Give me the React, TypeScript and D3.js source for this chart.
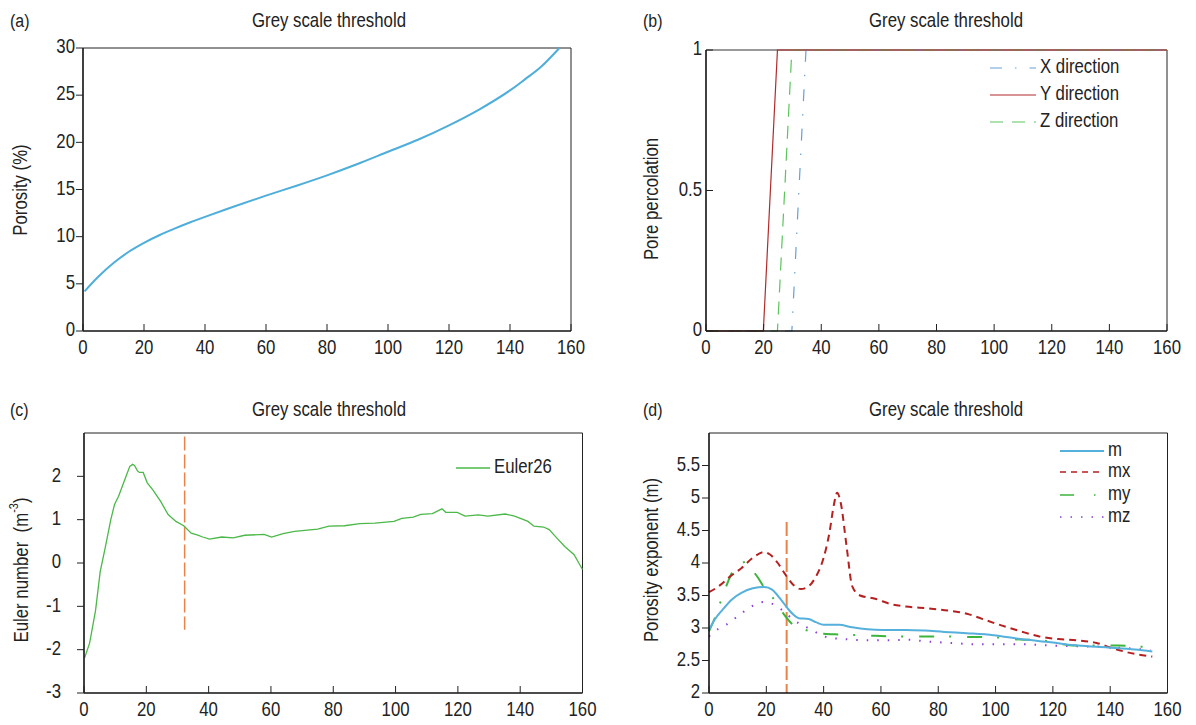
import React from 'react';
import * as d3 from 'd3';

// (a) porosity vs grey scale threshold
const porosityX = [0.5, 5, 10, 15, 20, 25, 30, 35, 40, 50, 60, 70, 80, 90, 100, 110, 120, 130, 140, 145, 150, 156.2];
const porosityY = [4.2, 5.75, 7.2, 8.4, 9.35, 10.15, 10.85, 11.5, 12.1, 13.25, 14.35, 15.4, 16.5, 17.7, 19.0, 20.3, 21.8, 23.5, 25.5, 26.7, 27.95, 30];

// (b) pore percolation per direction
const percX = { x: [0, 29.8, 34.7, 160], y: [0, 0, 1, 1] };
const percY = { x: [0, 19.9, 24.8, 160], y: [0, 0, 1, 1] };
const percZ = { x: [0, 24.8, 29.8, 160], y: [0, 0, 1, 1] };

// (c) Euler number
const eulerX = [0.2, 1.8, 3.7, 5.2, 6.8, 8.6, 9.8, 11.1, 12.3, 13.5, 14.7, 15.6, 16.2, 17.2, 17.8, 19.0, 20.3, 22.1, 24.6, 27.0, 29.5, 32.0, 34.4, 36.3, 38.1, 40.3, 44.2, 47.9, 51.6, 57.8, 60.2, 63.9, 67.6, 75, 78.6, 83.6, 88.5, 93.4, 99.5, 102, 105.7, 108.1, 111.8, 114.9, 116.1, 119.8, 122.3, 126.6, 129.6, 135.2, 138.2, 142.5, 144.4, 147.5, 149.3, 151.2, 154.3, 157.3, 160];
const eulerY = [-2.19, -1.85, -1.1, -0.2, 0.35, 1.0, 1.35, 1.54, 1.77, 2.0, 2.23, 2.28, 2.25, 2.12, 2.09, 2.09, 1.85, 1.69, 1.42, 1.12, 0.96, 0.86, 0.69, 0.65, 0.6, 0.55, 0.6, 0.58, 0.64, 0.66, 0.6, 0.68, 0.73, 0.78, 0.85, 0.86, 0.91, 0.92, 0.96, 1.03, 1.06, 1.12, 1.14, 1.25, 1.17, 1.17, 1.08, 1.11, 1.08, 1.13, 1.08, 0.96, 0.85, 0.83, 0.77, 0.62, 0.38, 0.19, -0.15];
const eulerMarker = { x: 32.3, y0: -1.54, y1: 2.92 };

// (d) porosity exponent
const mX = [0, 2, 4.7, 8, 11.3, 15.3, 19.3, 22, 24.7, 27.3, 29.3, 31.3, 34.7, 37.3, 40, 42.7, 45.3, 50, 55.3, 60.7, 68.7, 75.3, 82, 90, 99.3, 108.7, 119.3, 128.7, 139.3, 148.7, 154.7];
const mY = [2.97, 3.13, 3.28, 3.44, 3.54, 3.61, 3.63, 3.59, 3.46, 3.31, 3.21, 3.15, 3.14, 3.09, 3.05, 3.05, 3.05, 3.01, 2.98, 2.97, 2.97, 2.96, 2.94, 2.92, 2.89, 2.83, 2.78, 2.73, 2.70, 2.67, 2.64];
const mxX = [0, 3.3, 7.3, 11.3, 15.3, 19.3, 21.3, 24, 26.7, 29.3, 32, 34.7, 37.3, 40, 42, 43.6, 44.7, 46, 48, 50, 52.7, 58, 63.3, 68.7, 76.7, 84.7, 90, 95.3, 102, 108.7, 115.3, 122, 128.7, 135.3, 140.7, 148.7, 154.7];
const mxY = [3.55, 3.64, 3.79, 3.92, 4.08, 4.17, 4.13, 4.0, 3.82, 3.67, 3.6, 3.64, 3.79, 4.08, 4.46, 4.9, 5.08, 4.92, 4.26, 3.64, 3.5, 3.45, 3.37, 3.33, 3.3, 3.26, 3.22, 3.14, 3.04, 2.95, 2.87, 2.83, 2.81, 2.77, 2.69, 2.6, 2.56];
const myX = [0, 2, 4, 6, 8, 11, 13, 15, 17, 19.3, 22.7, 26, 29.3, 33, 37, 40, 46, 58, 64, 75, 81, 93, 98, 110, 114, 125, 130, 143, 148, 154.7];
const myY = [2.95, 3.15, 3.4, 3.64, 3.85, 3.98, 4.02, 3.9, 3.78, 3.62, 3.44, 3.22, 3.05, 2.98, 2.93, 2.91, 2.9, 2.88, 2.87, 2.87, 2.87, 2.86, 2.86, 2.82, 2.82, 2.74, 2.73, 2.73, 2.72, 2.7];
const mzX = [0, 2, 6, 10, 14, 19.3, 22.7, 26, 29.3, 32.7, 36, 38.7, 42, 47.3, 55.3, 63.3, 68.7, 76.7, 84.7, 92.7, 102, 108.7, 119.3, 128.7, 138, 148.7, 154];
const mzY = [2.87, 2.95, 3.05, 3.18, 3.31, 3.4, 3.36, 3.26, 3.13, 3.04, 2.97, 2.9, 2.85, 2.83, 2.81, 2.81, 2.82, 2.79, 2.77, 2.75, 2.75, 2.75, 2.73, 2.72, 2.71, 2.68, 2.66];
const exponentMarker = { x: 27.1, y0: 2, y1: 4.63 };

const xTicks = [0, 20, 40, 60, 80, 100, 120, 140, 160];
const title = 'Grey scale threshold';
const FONT = "'Liberation Sans', Arial, sans-serif";
const SQUEEZE = 0.84; // the source uses a condensed face

type Box = { x0: number; x1: number; y0: number; y1: number };

function zip(xs: number[], ys: number[]): [number, number][] {
  return xs.map((x, i) => [x, ys[i]] as [number, number]);
}

// condensed text: regular face squeezed horizontally along its own baseline
function Txt({ x, y, anchor = 'start', size = 20, rotate = 0, children }: any) {
  return (
    <g transform={`translate(${x},${y}) rotate(${rotate}) scale(${SQUEEZE},1)`}>
      <text x={0} y={0} fontFamily={FONT} fontSize={size} fill="#222" textAnchor={anchor} dominantBaseline="middle">
        {children}
      </text>
    </g>
  );
}

function Panel({ box, yDomain, yTicks, yTickInside, yLabelEnd, tag, titleX, topStroke = '#222', children }: any) {
  const x = d3.scaleLinear().domain([0, 160]).range([box.x0, box.x1]);
  const y = d3.scaleLinear().domain(yDomain).range([box.y1, box.y0]);
  const tl = 7;
  return (
    <g>
      <Txt x={tag.x} y={tag.y} size={19}>{tag.text}</Txt>
      <Txt x={titleX} y={tag.y} anchor="middle">{title}</Txt>
      <line x1={box.x0} x2={box.x1} y1={box.y0} y2={box.y0} stroke={topStroke} strokeWidth={topStroke === '#222' ? 1 : 2} />
      <line x1={box.x1} x2={box.x1} y1={box.y0} y2={box.y1} stroke="#222" strokeWidth={1} />
      {children(x, y)}
      <line x1={box.x0} x2={box.x1} y1={box.y1} y2={box.y1} stroke="#111" strokeWidth={1.6} />
      <line x1={box.x0} x2={box.x0} y1={box.y0} y2={box.y1} stroke="#111" strokeWidth={1.6} />
      {xTicks.map(t => (
        <g key={'x' + t}>
          <line x1={x(t)} x2={x(t)} y1={box.y1} y2={box.y1 - tl} stroke="#222" strokeWidth={1} />
          <Txt x={x(t)} y={box.y1 + 18} anchor="middle">{t}</Txt>
        </g>
      ))}
      {yTicks.map((t: number) => (
        <g key={'y' + t}>
          <line x1={box.x0} x2={yTickInside ? box.x0 + tl : box.x0 - tl} y1={y(t)} y2={y(t)} stroke="#222" strokeWidth={1} />
          <Txt x={yLabelEnd} y={y(t)} anchor="end">{String(t)}</Txt>
        </g>
      ))}
    </g>
  );
}

function Series({ x, y, pts, stroke, width = 1.2, dash, curve = d3.curveMonotoneX }: any) {
  const line = d3.line<[number, number]>().x(d => x(d[0])).y(d => y(d[1])).curve(curve);
  return <path d={line(pts) || ''} fill="none" stroke={stroke} strokeWidth={width} strokeDasharray={dash} />;
}

function LegendRow({ x0, x1, yy, label, stroke, width = 1.2, dash }: any) {
  return (
    <g>
      <line x1={x0} x2={x1} y1={yy} y2={yy} stroke={stroke} strokeWidth={width} strokeDasharray={dash} />
      <Txt x={x1 + 4} y={yy}>{label}</Txt>
    </g>
  );
}

export default function App() {
  const boxA: Box = { x0: 83, x1: 571, y0: 48, y1: 331 };
  const boxB: Box = { x0: 706, x1: 1167, y0: 50, y1: 331 };
  const boxC: Box = { x0: 84, x1: 582.5, y0: 433, y1: 693 };
  const boxD: Box = { x0: 709, x1: 1167.5, y0: 433, y1: 693 };

  return (
    <svg width={1196} height={725} style={{ position: 'absolute', left: 0, top: 0, background: '#fff' }}>
      {/* (a) */}
      <Panel box={boxA} yDomain={[0, 30]} yTicks={[0, 5, 10, 15, 20, 25, 30]}
        yTickInside={false} yLabelEnd={75} tag={{ x: 10, y: 22, text: '(a)' }} titleX={329}>
        {(x: any, y: any) => (
          <Series x={x} y={y} pts={zip(porosityX, porosityY)} stroke="#4eaedb" width={2} curve={d3.curveCatmullRom} />
        )}
      </Panel>
      <Txt x={22} y={190} rotate={-90} anchor="middle">Porosity (%)</Txt>

      {/* (b) */}
      <Panel box={boxB} yDomain={[0, 1]} yTicks={[0, 0.5, 1]} topStroke="#999"
        yTickInside={true} yLabelEnd={702} tag={{ x: 643, y: 22, text: '(b)' }} titleX={946}>
        {(x: any, y: any) => {
          const line = d3.line<[number, number]>().x(d => x(d[0])).y(d => y(d[1]));
          return (
            <g>
              <path d={line(zip(percX.x, percX.y)) || ''} fill="none" stroke="#6a9fd6" strokeWidth={1.2} strokeDasharray="12,13,1.5,13" />
              <path d={line(zip(percZ.x, percZ.y)) || ''} fill="none" stroke="#5cc45c" strokeWidth={1.2} strokeDasharray="13,9" />
              <path d={line(zip(percY.x, percY.y)) || ''} fill="none" stroke="#b22a2a" strokeWidth={1.2} />
            </g>
          );
        }}
      </Panel>
      <Txt x={653} y={199} rotate={-90} anchor="middle">Pore percolation</Txt>
      <LegendRow x0={990} x1={1036} yy={68} label="X direction" stroke="#6a9fd6" dash="12,13,1.5,13" />
      <LegendRow x0={990} x1={1036} yy={95} label="Y direction" stroke="#b22a2a" />
      <LegendRow x0={990} x1={1036} yy={122} label="Z direction" stroke="#5cc45c" dash="13,9" />

      {/* (c) */}
      <Panel box={boxC} yDomain={[-3, 3]} yTicks={[-3, -2, -1, 0, 1, 2]}
        yTickInside={false} yLabelEnd={61} tag={{ x: 10, y: 411, text: '(c)' }} titleX={329}>
        {(x: any, y: any) => {
          const line = d3.line<[number, number]>().x(d => x(d[0])).y(d => y(d[1]));
          return (
            <g>
              <line x1={x(eulerMarker.x)} x2={x(eulerMarker.x)} y1={y(eulerMarker.y1)} y2={y(eulerMarker.y0)} stroke="#e8844a" strokeWidth={1.5} strokeDasharray="14,4" />
              <path d={line(zip(eulerX, eulerY)) || ''} fill="none" stroke="#4cb848" strokeWidth={1.3} />
            </g>
          );
        }}
      </Panel>
      <Txt x={23} y={570} rotate={-90} anchor="middle">
        Euler number{'\u00a0'} (m<tspan fontSize={13} dy={-8}>-3</tspan><tspan dy={8}>)</tspan>
      </Txt>
      <LegendRow x0={456} x1={490} yy={468} label="Euler26" stroke="#4cb848" width={1.3} />

      {/* (d) */}
      <Panel box={boxD} yDomain={[2, 6]} yTicks={[2, 2.5, 3, 3.5, 4, 4.5, 5, 5.5]}
        yTickInside={false} yLabelEnd={700} tag={{ x: 643, y: 411, text: '(d)' }} titleX={946}>
        {(x: any, y: any) => (
          <g>
            <line x1={x(exponentMarker.x)} x2={x(exponentMarker.x)} y1={y(exponentMarker.y1)} y2={y(exponentMarker.y0)} stroke="#e8844a" strokeWidth={2} strokeDasharray="14,4" />
            <Series x={x} y={y} pts={zip(mzX, mzY)} stroke="#8b3fd9" width={2} dash="1.5,9" />
            <Series x={x} y={y} pts={zip(myX, myY)} stroke="#3db43d" width={2} dash="15,15,2,16" />
            <Series x={x} y={y} pts={zip(mxX, mxY)} stroke="#b52020" width={2} dash="7,5" />
            <Series x={x} y={y} pts={zip(mX, mY)} stroke="#55b0dc" width={2} />
          </g>
        )}
      </Panel>
      <Txt x={653} y={560} rotate={-90} anchor="middle">Porosity exponent (m)</Txt>
      <LegendRow x0={1060} x1={1104} yy={451} label="m" stroke="#55b0dc" width={2} />
      <LegendRow x0={1060} x1={1104} yy={472} label="mx" stroke="#b52020" width={1.5} dash="6,5" />
      <LegendRow x0={1060} x1={1104} yy={495} label="my" stroke="#3db43d" width={1.5} dash="14,20,1.5,20" />
      <LegendRow x0={1060} x1={1104} yy={517} label="mz" stroke="#8b3fd9" width={1.5} dash="1.5,9" />
    </svg>
  );
}
